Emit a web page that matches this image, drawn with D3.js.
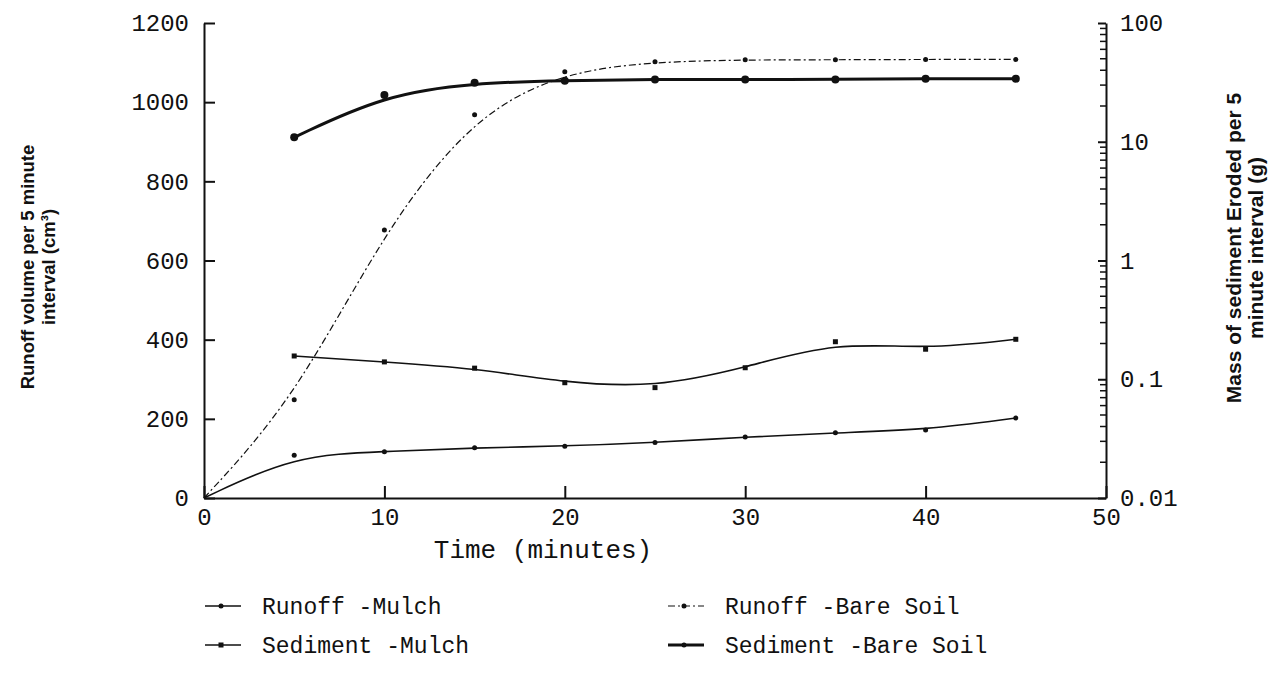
<!DOCTYPE html>
<html>
<head>
<meta charset="utf-8">
<script src="https://cdn.jsdelivr.net/npm/d3@7"></script>
<style>
  body { margin: 0; background: #fff; }
  svg { display: block; }
  .tick text { font-family: 'Liberation Mono', monospace; font-size: 24px; fill: #111; }
  .title { font-family: 'Liberation Sans', Arial, sans-serif; font-weight: bold; fill: #111; }
  .legend text, .xtitle { font-family: 'Liberation Mono', monospace; fill: #111; }
</style>
</head>
<body>
<figure style="margin:0"></figure>
<script>
const width = 1274
const height = 676

// runoff curves start at the origin
const runoffTimes = [0, 5, 10, 15, 20, 25, 30, 35, 40, 45]
const runoffMulch = [0, 108, 117, 127, 131, 140, 154, 165, 172, 202]
const runoffBare = [0, 248, 677, 968, 1077, 1102, 1107, 1107, 1108, 1108]

const sedTimes = [5, 10, 15, 20, 25, 30, 35, 40, 45]
const sedMulch = [0.157, 0.140, 0.124, 0.0935, 0.085, 0.125, 0.207, 0.179, 0.217]
const sedBare = [10.9, 24.8, 31.4, 32.7, 33.5, 33.5, 33.5, 34, 34]

const xTicks = [0, 10, 20, 30, 40, 50]
const leftTicks = [0, 200, 400, 600, 800, 1000, 1200]
const rightTicks = [0.01, 0.1, 1, 10, 100]
const rightLabels = ['0.01', '0.1', '1', '10', '100']

const svg = d3.select('figure').append('svg')
  .attr('width', width)
  .attr('height', height)

const x = d3.scaleLinear().domain([0, 50]).range([204, 1106])
const yL = d3.scaleLinear().domain([0, 1200]).range([498, 23])
const yR = d3.scaleLog().domain([0.01, 100]).range([498, 23])

// axes
const xAxis = svg.append('g')
  .attr('transform', `translate(0,${yL(0)})`)
  .call(d3.axisBottom(x).tickValues(xTicks).tickSize(-12).tickSizeOuter(0).tickPadding(10))
const lAxis = svg.append('g')
  .attr('transform', `translate(${x(0)},0)`)
  .call(d3.axisLeft(yL).tickValues(leftTicks).tickSize(-11).tickSizeOuter(0).tickPadding(15)
    .tickFormat(d3.format('d')))
const rAxis = svg.append('g')
  .attr('transform', `translate(${x(50)},0)`)
  .call(d3.axisRight(yR).tickValues(rightTicks).tickSize(-8).tickSizeOuter(0).tickPadding(14)
    .tickFormat((d, i) => rightLabels[i]))

for (const g of [xAxis, lAxis, rAxis]) {
  g.selectAll('path, line').attr('stroke', '#111').attr('stroke-width', 2)
}

// log minor ticks on the right axis
const minor = []
for (let p = -2; p < 2; p++) {
  for (let m = 2; m <= 9; m++) minor.push(m * Math.pow(10, p))
}
svg.append('g').selectAll('line')
  .data(minor)
  .join('line')
  .attr('x1', x(50)).attr('x2', x(50) - 6)
  .attr('y1', d => yR(d)).attr('y2', d => yR(d))
  .attr('stroke', '#111').attr('stroke-width', 1.5)

// axis titles
svg.append('text').attr('class', 'xtitle')
  .attr('x', 543).attr('y', 558)
  .attr('text-anchor', 'middle').attr('font-size', 26)
  .text('Time  (minutes)')

const leftTitle = ['Runoff volume per 5 minute', 'interval (cm³)']
leftTitle.forEach((t, i) => {
  svg.append('text').attr('class', 'title')
    .attr('transform', `translate(${28 + i * 21},267) rotate(-90)`)
    .attr('text-anchor', 'middle').attr('dy', '0.35em').attr('font-size', 18.5)
    .text(t)
})
const rightTitle = ['Mass of sediment Eroded per 5', 'minute interval (g)']
rightTitle.forEach((t, i) => {
  svg.append('text').attr('class', 'title')
    .attr('transform', `translate(${1234 + i * 22},248) rotate(-90)`)
    .attr('text-anchor', 'middle').attr('dy', '0.35em').attr('font-size', 21)
    .text(t)
})

// series
const series = [
  { name: 'Runoff -Mulch', t: runoffTimes, v: runoffMulch, y: yL, width: 1.6, dash: null, marker: 'dot' },
  { name: 'Runoff -Bare Soil', t: runoffTimes, v: runoffBare, y: yL, width: 1.2, dash: '7,3,2,3', marker: 'dot' },
  { name: 'Sediment -Mulch', t: sedTimes, v: sedMulch, y: yR, width: 1.6, dash: null, marker: 'square' },
  { name: 'Sediment -Bare Soil', t: sedTimes, v: sedBare, y: yR, width: 3, dash: null, marker: 'big' }
]

const drawMarker = (g, kind, cx, cy) => {
  if (kind === 'square') {
    g.append('rect').attr('x', cx - 2.5).attr('y', cy - 2.5).attr('width', 5).attr('height', 5).attr('fill', '#111')
  } else {
    g.append('circle').attr('cx', cx).attr('cy', cy).attr('r', kind === 'big' ? 4 : 2.5).attr('fill', '#111')
  }
}

series.forEach(s => {
  const pts = s.t.map((t, i) => [x(t), s.y(s.v[i])])
  const line = d3.line().curve(d3.curveBasis)
  svg.append('path')
    .attr('d', line(pts))
    .attr('fill', 'none')
    .attr('stroke', '#111')
    .attr('stroke-width', s.width)
    .attr('stroke-dasharray', s.dash)
  const g = svg.append('g')
  s.t.forEach((t, i) => {
    if (t > 0) drawMarker(g, s.marker, x(t), s.y(s.v[i]))
  })
})

// legend
const legendPos = [[205, 606], [668, 606], [205, 645], [668, 645]]
const legend = svg.append('g').attr('class', 'legend')
series.forEach((s, i) => {
  const [lx, ly] = legendPos[i]
  legend.append('line')
    .attr('x1', lx).attr('x2', lx + 36).attr('y1', ly).attr('y2', ly)
    .attr('stroke', '#111').attr('stroke-width', s.width)
    .attr('stroke-dasharray', s.dash)
  drawMarker(legend, s.marker === 'big' ? 'dot' : s.marker, lx + 16, ly)
  legend.append('text')
    .attr('x', lx + 57).attr('y', ly).attr('dy', '0.35em')
    .attr('font-size', 23)
    .text(s.name)
})
</script>
</body>
</html>
